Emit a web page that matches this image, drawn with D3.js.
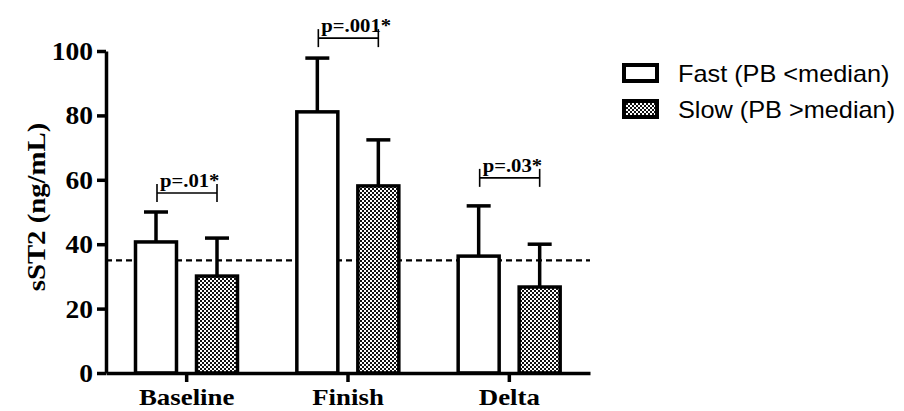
<!DOCTYPE html>
<html lang="en">
  <head>
    <meta charset="utf-8" />
    <title>sST2 by pace group</title>
    <script src="https://d3js.org/d3.v7.min.js"></script>
    <style>
      body { margin: 0; background: #fff; }
      svg { display: block; }
      .serif { font-family: "Liberation Serif", "Times New Roman", serif; font-weight: bold; fill: #000; }
      .sans { font-family: "Liberation Sans", Arial, sans-serif; fill: #000; }
    </style>
  </head>
  <body>
    <div id="chart"></div>
    <script>
      // values
      const categories = ["Baseline", "Finish", "Delta"];
      const groups = ["fast", "slow"];
      const fastMean = [40.7, 81.1, 36.3];
      const fastErr = [9.3, 16.7, 15.6];
      const slowMean = [30.1, 58.1, 26.7];
      const slowErr = [11.8, 14.3, 13.3];
      const refLine = 35;
      const pLabels = ["p=.01*", "p=.001*", "p=.03*"];
      const pLevels = [55.9, 104, 60.6];
      const yTicks = [0, 20, 40, 60, 80, 100];
      const legendLabels = ["Fast (PB <median)", "Slow (PB >median)"];

      const width = 904;
      const height = 411;
      const margin = { top: 51, right: 314, bottom: 38, left: 106 };

      const svg = d3
        .select("#chart")
        .append("svg")
        .attr("width", width)
        .attr("height", height);

      // checker fill for the slow group
      const pat = svg
        .append("defs")
        .append("pattern")
        .attr("id", "checker")
        .attr("patternUnits", "userSpaceOnUse")
        .attr("width", 4)
        .attr("height", 4);
      pat.append("rect").attr("width", 4).attr("height", 4).attr("fill", "#fff");
      pat.append("rect").attr("width", 2).attr("height", 2).attr("fill", "#111");
      pat.append("rect").attr("x", 2).attr("y", 2).attr("width", 2).attr("height", 2).attr("fill", "#111");

      const fills = { fast: "#fff", slow: "url(#checker)" };

      const x = d3
        .scaleBand()
        .domain(categories)
        .range([margin.left, width - margin.right]);

      const xInner = d3
        .scaleBand()
        .domain(groups)
        .range([29.5, 131.5])
        .paddingInner(0.328);

      const y = d3
        .scaleLinear()
        .domain([0, 100])
        .range([height - margin.bottom, margin.top]);

      const data = [];
      categories.forEach((c, i) => {
        data.push({ cat: c, grp: "fast", mean: fastMean[i], err: fastErr[i] });
        data.push({ cat: c, grp: "slow", mean: slowMean[i], err: slowErr[i] });
      });
      const cx = (d) => x(d.cat) + xInner(d.grp) + xInner.bandwidth() / 2;

      // text is drawn a little wider than the font's own width
      const place = (sel, px, py, sx, rot) =>
        sel.attr("transform", `translate(${px},${py})${rot ? ` rotate(${rot})` : ""} scale(${sx},1)`);

      // error bars (drawn first so bar outline covers the base)
      const eb = svg.append("g").attr("stroke", "#000").attr("stroke-width", 3.5);
      eb.selectAll(".stem")
        .data(data)
        .enter()
        .append("line")
        .attr("x1", cx)
        .attr("x2", cx)
        .attr("y1", (d) => y(d.mean))
        .attr("y2", (d) => y(d.mean + d.err));
      eb.selectAll(".cap")
        .data(data)
        .enter()
        .append("line")
        .attr("x1", (d) => cx(d) - 12)
        .attr("x2", (d) => cx(d) + 12)
        .attr("y1", (d) => y(d.mean + d.err))
        .attr("y2", (d) => y(d.mean + d.err));

      // reference line
      svg
        .append("line")
        .attr("x1", margin.left)
        .attr("x2", x.range()[1])
        .attr("y1", y(refLine))
        .attr("y2", y(refLine))
        .attr("stroke", "#000")
        .attr("stroke-width", 2.2)
        .attr("stroke-dasharray", "6,4");

      // bars
      svg
        .append("g")
        .selectAll("rect")
        .data(data)
        .enter()
        .append("rect")
        .attr("x", (d) => x(d.cat) + xInner(d.grp))
        .attr("y", (d) => y(d.mean))
        .attr("width", xInner.bandwidth())
        .attr("height", (d) => y(0) - y(d.mean))
        .attr("fill", (d) => fills[d.grp])
        .attr("stroke", "#000")
        .attr("stroke-width", 3.5);

      // y axis
      const yAxis = svg
        .append("g")
        .attr("transform", `translate(${margin.left},0)`)
        .call(d3.axisLeft(y).tickValues(yTicks).tickSize(9).tickSizeOuter(0).tickFormat(d3.format("d")));
      yAxis.select(".domain").attr("stroke-width", 3.5);
      yAxis.selectAll(".tick line").attr("stroke-width", 3.5);
      yAxis.selectAll(".tick text").remove();
      yAxis
        .selectAll(".tick")
        .append("text")
        .attr("class", "serif")
        .attr("text-anchor", "end")
        .style("font-size", "25px")
        .text((d) => d)
        .each(function () {
          place(d3.select(this), -13, 8.5, 1.1);
        });

      // x axis
      const xAxis = svg
        .append("g")
        .attr("transform", `translate(0,${y(0)})`)
        .call(d3.axisBottom(x).tickSize(9).tickSizeOuter(0));
      xAxis.select(".domain").attr("stroke-width", 3.5);
      xAxis.selectAll(".tick line").attr("stroke-width", 3.5);
      xAxis.selectAll(".tick text").remove();
      xAxis
        .selectAll(".tick")
        .append("text")
        .attr("class", "serif")
        .attr("text-anchor", "middle")
        .style("font-size", "24px")
        .text((d) => d)
        .each(function () {
          place(d3.select(this), 0, 32, 1.12);
        });

      // y axis title
      place(
        svg
          .append("text")
          .attr("class", "serif")
          .attr("text-anchor", "middle")
          .style("font-size", "25px")
          .text("sST2 (ng/mL)"),
        45,
        207,
        1.15,
        -90
      );

      // significance brackets
      const br = svg.append("g");
      categories.forEach((c, i) => {
        const x1 = x(c) + xInner("fast") + xInner.bandwidth() / 2 + 1;
        const x2 = x(c) + xInner("slow") + xInner.bandwidth() / 2;
        const yy = y(pLevels[i]);
        const g = br.append("g").attr("stroke", "#000").attr("stroke-width", 1.6);
        g.append("line").attr("x1", x1).attr("x2", x2).attr("y1", yy).attr("y2", yy);
        g.append("line").attr("x1", x1).attr("x2", x1).attr("y1", yy - 9).attr("y2", yy + 9);
        g.append("line").attr("x1", x2).attr("x2", x2).attr("y1", yy - 9).attr("y2", yy + 9);
        place(
          br
            .append("text")
            .attr("class", "serif")
            .style("font-size", "18px")
            .text(pLabels[i]),
          x1 + 3,
          yy - 6,
          1.15
        );
      });

      // legend
      const legend = svg.append("g").attr("transform", "translate(622,63)");
      groups.forEach((gname, i) => {
        const row = legend.append("g").attr("transform", `translate(0,${i * 36})`);
        row
          .append("rect")
          .attr("x", 2)
          .attr("y", 2)
          .attr("width", 33)
          .attr("height", 16)
          .attr("fill", fills[gname])
          .attr("stroke", "#000")
          .attr("stroke-width", 4);
        place(
          row
            .append("text")
            .attr("class", "sans")
            .style("font-size", "23px")
            .text(legendLabels[i]),
          56,
          19,
          1.1
        );
      });
    </script>
  </body>
</html>
